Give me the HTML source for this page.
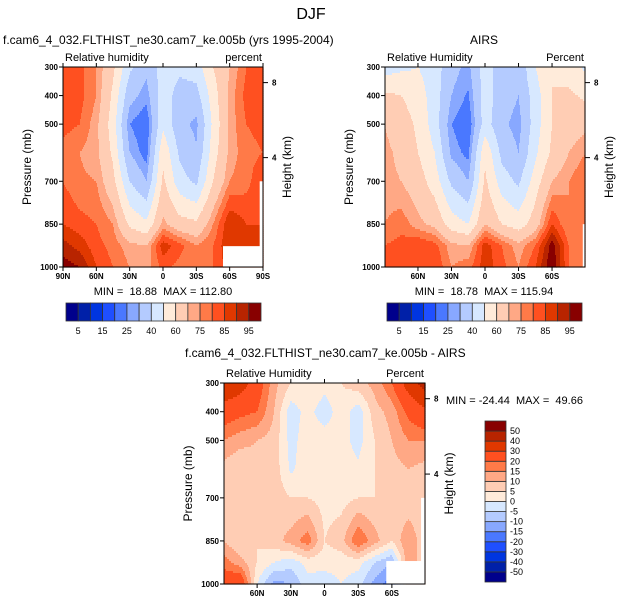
<!DOCTYPE html>
<html><head><meta charset="utf-8">
<style>
body{margin:0;background:#fff;}
svg{display:block;font-family:"Liberation Sans",sans-serif;}
.tk{font-size:8px;font-weight:bold;}
text{white-space:pre;}
</style></head>
<body>
<svg id="fig" width="622" height="606" viewBox="0 0 622 606">
<text x="311" y="19" text-anchor="middle" font-size="16">DJF</text>
<text x="3" y="44" font-size="12">f.cam6_4_032.FLTHIST_ne30.cam7_ke.005b (yrs 1995-2004)</text>
<text x="484" y="44" text-anchor="middle" font-size="12">AIRS</text>
<text x="185" y="357" font-size="12">f.cam6_4_032.FLTHIST_ne30.cam7_ke.005b - AIRS</text>
<g id="layer"></g>
</svg>
<script>
const lats=[90,75,60,45,30,15,0,-15,-30,-45,-60,-75,-90];
const plevs=[300,400,500,600,700,850,925,1000];
const rhModel=[
[80,82,75,62,42,32,45,42,45,60,70,80,85],
[85,82,75,58,33,27,45,36,36,55,72,82,85],
[82,80,72,55,25,20,48,33,28,52,72,80,82],
[78,75,72,58,30,22,58,38,31,55,72,78,80],
[80,76,75,63,40,30,62,44,38,60,75,78,85],
[85,82,80,75,58,52,72,64,62,75,90,85,85],
[92,88,82,78,72,70,88,82,75,80,90,85,85],
[98,95,85,80,75,72,82,78,75,80,88,85,85]];
const rhAirs=[
[45,48,50,45,33,28,45,35,32,50,60,55,48],
[62,60,55,45,30,24,45,35,30,45,60,62,58],
[70,65,58,45,25,20,45,32,27,45,60,65,68],
[72,68,60,50,28,23,58,37,30,48,62,70,75],
[72,70,65,55,38,30,62,45,38,55,70,75,80],
[75,78,72,68,55,50,70,60,55,65,85,75,75],
[80,82,85,82,72,70,88,80,72,80,98,80,78],
[80,80,82,85,75,78,88,82,75,85,100,80,78]];
const rhDiff=[
[40,35,25,12,5,5,2,5,8,12,20,35,45],
[25,22,20,10,-3,2,-3,3,-3,8,12,22,28],
[15,12,10,8,-2,3,3,2,-2,5,10,15,15],
[8,5,8,8,-1,3,3,3,1,5,8,10,8],
[8,5,8,8,5,5,3,3,5,5,8,5,5],
[10,5,5,8,12,18,5,8,20,12,5,15,5],
[18,12,5,0,-3,2,2,2,2,-5,-10,15,5],
[25,28,0,-12,-10,-2,-3,0,-3,-12,-18,10,5]];
const levelsRH=[5,10,15,20,25,30,40,50,60,70,75,80,85,90,95];
const labelsRH=["5","15","25","40","60","75","85","95"];
const levelsDiff=[-50,-40,-30,-20,-15,-10,-5,0,5,10,15,20,30,40,50];
const colors=["#00008c","#0020a8","#0035e0","#1f4fff","#4a78ff","#88a8ff","#b4cbff","#d7e8ff","#ffebda","#ffcdb4","#ffa885","#ff7a48","#ff5020","#e03800","#b82400","#880000"];
const pLabels=[300,400,500,700,850,1000];
const hLabels=[8,4];
const latTicks=[90,60,30,0,-30,-60,-90];

const NS="http://www.w3.org/2000/svg";
const layer=document.getElementById('layer');
function mk(tag,attrs,parent){const e=document.createElementNS(NS,tag);for(const k in attrs)e.setAttribute(k,attrs[k]);(parent||layer).appendChild(e);return e;}
function interp(grid,lat,p){
  let i=0;while(i<lats.length-2&&lat<lats[i+1])i++;
  let fi=(lats[i]-lat)/(lats[i]-lats[i+1]);fi=Math.max(0,Math.min(1,fi));
  let j=0;while(j<plevs.length-2&&p>plevs[j+1])j++;
  let fj=(p-plevs[j])/(plevs[j+1]-plevs[j]);fj=Math.max(0,Math.min(1,fj));
  const a=grid[j][i],b=grid[j][i+1],c=grid[j+1][i],d=grid[j+1][i+1];
  return (a*(1-fi)+b*fi)*(1-fj)+(c*(1-fi)+d*fi)*fj;
}
function cidx(v,lev){let k=0;while(k<lev.length&&v>=lev[k])k++;return k;}
function latLabel(l){return l===0?"0":Math.abs(l)+(l>0?"N":"S");}
function hToP(h){return 1074*Math.exp(-h/7.22);}

function panel(cfg){
  const g=mk('g',{});
  
  
  const W=cfg.x1-cfg.x0,H=cfg.y1-cfg.y0;
  const xOf=l=>cfg.x0+(cfg.latL-l)/(cfg.latL-cfg.latR)*W;
  const yOf=p=>cfg.y0+(p-300)/700*H;
  const step=2;
  for(let y=cfg.y0;y<cfg.y1;y+=step){
    const p=300+(y+step/2-cfg.y0)/H*700;
    let runStart=cfg.x0,runC=-1;
    for(let x=cfg.x0;x<=cfg.x1;x+=1){
      let c=-1;
      if(x<cfg.x1){const lat=cfg.latL-(x+0.5-cfg.x0)/W*(cfg.latL-cfg.latR);c=cidx(interp(cfg.grid,lat,p),cfg.levels);}
      if(c!==runC){
        if(runC>=0){const r=mk('rect',{x:runStart,y:y,width:x-runStart+0.6,height:Math.min(step,cfg.y1-y)+0.6,fill:colors[runC]},g);
          
          }
        runStart=x;runC=c;
      }
    }
  }
  (cfg.missing||[]).forEach(m=>{
    const r=mk('rect',{x:xOf(m[0]),y:yOf(m[1]),width:cfg.x1-xOf(m[0]),height:cfg.y1-yOf(m[1]),fill:"#fff"},g);
    
    });
  const fr=mk('rect',{x:cfg.x0,y:cfg.y0,width:W,height:H,fill:"none",stroke:"#000","stroke-width":1},g);
  
  
  pLabels.forEach(p=>{const y=yOf(p);
    mk('line',{x1:cfg.x0-4,x2:cfg.x0,y1:y,y2:y,stroke:"#000"},g);
    const t=mk('text',{x:cfg.x0-5,y:y+3,'text-anchor':'end',class:'tk'},g);t.textContent=p;
    
    });
  hLabels.forEach(h=>{const y=yOf(hToP(h));
    mk('line',{x1:cfg.x1,x2:cfg.x1+5,y1:y,y2:y,stroke:"#000"},g);
    const t=mk('text',{x:cfg.x1+9,y:y+3,class:'tk'},g);t.textContent=h;
    
    });
  latTicks.forEach(l=>{if(l>cfg.latL||l<cfg.latR)return;const x=xOf(l);
    mk('line',{x1:x,x2:x,y1:cfg.y1,y2:cfg.y1+4,stroke:"#000"},g);
    mk('line',{x1:x,x2:x,y1:cfg.y0,y2:cfg.y0-4,stroke:"#000"},g);
    if(cfg.hideEnds&&Math.abs(l)===90)return;
    const t=mk('text',{x:x,y:cfg.y1+12,'text-anchor':'middle',class:'tk'},g);t.textContent=latLabel(l);
    
    });
  const yt=mk('text',{x:0,y:0,'font-size':12,'text-anchor':'middle',transform:`translate(${cfg.x0-32},${(cfg.y0+cfg.y1)/2}) rotate(-90)`},g);yt.textContent="Pressure (mb)";
  
  
  const ht=mk('text',{x:0,y:0,'font-size':12,'text-anchor':'middle',transform:`translate(${cfg.x1+28},${(cfg.y0+cfg.y1)/2}) rotate(-90)`},g);ht.textContent="Height (km)";
  
  
  const lt=mk('text',{x:cfg.x0+2,y:cfg.y0-6,'font-size':11},g);lt.textContent=cfg.left;
  
  
  const rt=mk('text',{x:cfg.x1-1,y:cfg.y0-6,'font-size':11,'text-anchor':'end'},g);rt.textContent=cfg.right;
  
  
}
function hbar(x0,x1,y0,y1,name){
  const g=mk('g',{});
  
  
  const w=(x1-x0)/colors.length;
  colors.forEach((c,i)=>{const r=mk('rect',{x:x0+i*w,y:y0,width:w,height:y1-y0,fill:c,stroke:"#333","stroke-width":0.8},g);
    
    });
  labelsRH.forEach((s,k)=>{const t=mk('text',{x:x0+(2*k+1)*w,y:y1+13,'text-anchor':'middle','font-size':9},g);t.textContent=s;
    
    });
}
panel({name:'model-panel',grid:rhModel,levels:levelsRH,x0:63,x1:263,y0:67,y1:267,latL:90,latR:-90,left:"Relative humidity",right:"percent",missing:[[-54,927],[-87,700]]});
panel({name:'airs-panel',grid:rhAirs,levels:levelsRH,x0:385,x1:585,y0:67,y1:267,latL:89.5,latR:-89.5,left:"Relative Humidity",right:"Percent",hideEnds:true,missing:[[-87.5,850]]});
panel({name:'diff-panel',grid:rhDiff,levels:levelsDiff,x0:224,x1:425,y0:383,y1:584,latL:89.5,latR:-89.5,left:"Relative Humidity",right:"Percent",hideEnds:true,missing:[[-55,920],[-86,700]]});
hbar(66,261,303,321,'model-colorbar');
hbar(387,582,303,321,'airs-colorbar');
const s1=mk('text',{x:163,y:295,'text-anchor':'middle','font-size':11});s1.textContent="MIN =  18.88  MAX = 112.80";


const s2=mk('text',{x:484,y:295,'text-anchor':'middle','font-size':11});s2.textContent="MIN =  18.78  MAX = 115.94";


const s3=mk('text',{x:446,y:404,'font-size':11});s3.textContent="MIN = -24.44  MAX =  49.66";


(function(){
  const g=mk('g',{});
  
  
  const x0=485,x1=506,y0=421,y1=582,h=(y1-y0)/colors.length;
  colors.forEach((c,i)=>{const r=mk('rect',{x:x0,y:y1-(i+1)*h,width:x1-x0,height:h,fill:c,stroke:"#333","stroke-width":0.8},g);
    
    });
  levelsDiff.forEach((v,k)=>{const t=mk('text',{x:x1+4,y:y1-(k+1)*h+3,'font-size':9},g);t.textContent=v;
    
    });
})();
</script>
</body></html>
